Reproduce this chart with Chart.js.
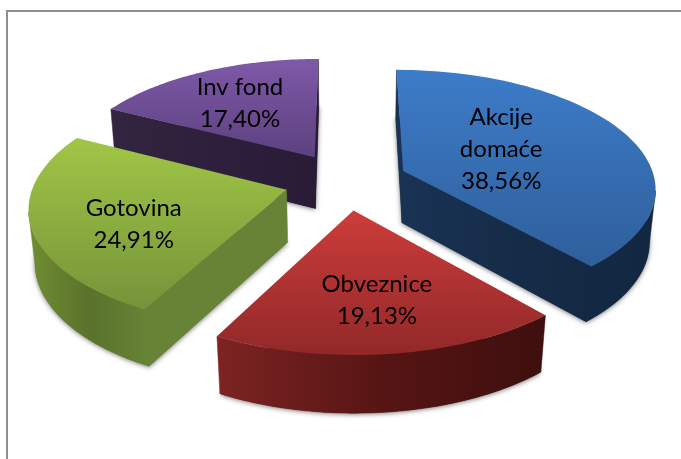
<!DOCTYPE html>
<html>
<head>
<meta charset="utf-8">
<script src="https://cdn.jsdelivr.net/npm/chart.js@4/dist/chart.umd.min.js"></script>
<style>
  html, body { margin:0; padding:0; background:#fff; }
  #frame { position:absolute; left:6px; top:10px; width:675px; height:449px; border-left:2px solid #8f8f8f; border-top:2px solid #8f8f8f; box-sizing:border-box; }
  canvas { position:absolute; left:0; top:0; }
</style>
</head>
<body>
<div id="frame"></div>
<canvas id="pie" width="681" height="459"></canvas>
<script>
const categories = ['Akcije domaće', 'Obveznice', 'Gotovina', 'Inv fond'];
const shares = [38.56, 19.13, 24.91, 17.40];
const labelLines = [['Akcije', 'domaće'], ['Obveznice'], ['Gotovina'], ['Inv fond']];

const topColors = [['#3d7cc9', '#2f5f9b'], ['#cc3d3a', '#922829'], ['#a0c646', '#76933a'], ['#7f59a8', '#5c417f']];
const sideColors = [['#1a3355', '#152b47', '#122740'], ['#7c2422', '#561514', '#3e0f0e'], ['#6f8e33', '#5a722b', '#678436'], ['#33243f', '#2e203c', '#291b36']];
const labelRadius = [0.42, 0.62, 0.62, 0.5];
const labelNudge = [[3, -5], [2, 6], [3, 12], [-16, -9]];

// draws the arcs the controller laid out as a tilted, exploded solid
const pie3d = {
  id: 'pie3d',
  beforeDatasetsDraw(chart, args, opts) {
    const ctx = chart.ctx;
    const meta = chart.getDatasetMeta(0);
    const order = meta.data.map((a, i) => i).sort((p, q) => {
      const m = i => (meta.data[i].startAngle + meta.data[i].endAngle) / 2;
      return Math.sin(m(p)) - Math.sin(m(q));
    });

    const project = (arc, X, Y, z) => {
      const w = 1 - opts.persp * Y + opts.zPersp * z;
      return [arc.x + arc.outerRadius * opts.stretch * X / w, arc.y + arc.outerRadius * (Y + opts.depth * z) / w];
    };
    const poly = pts => {
      ctx.beginPath();
      pts.forEach((p, i) => i ? ctx.lineTo(p[0], p[1]) : ctx.moveTo(p[0], p[1]));
      ctx.closePath();
    };

    order.forEach(i => {
      const arc = meta.data[i];
      const mid = (arc.startAngle + arc.endAngle) / 2;
      const ox = opts.explode * Math.cos(mid), oy = opts.explode * Math.sin(mid);
      const steps = 64, angles = [];
      for (let s = 0; s <= steps; s++) angles.push(arc.startAngle + (arc.endAngle - arc.startAngle) * s / steps);
      const rim = z => angles.map(a => project(arc, ox + Math.cos(a), oy + Math.sin(a), z));
      const top = rim(0), bot = rim(1);
      const apexT = project(arc, ox, oy, 0), apexB = project(arc, ox, oy, 1);

      // soft shadow under the foot of the slice
      ctx.save();
      ctx.shadowColor = 'rgba(0,0,0,0.55)';
      ctx.shadowBlur = 5;
      ctx.shadowOffsetY = 1;
      ctx.fillStyle = sideColors[i][1];
      poly([apexB].concat(bot));
      ctx.fill();
      ctx.restore();

      const xs = top.concat(bot).map(p => p[0]);
      const side = ctx.createLinearGradient(Math.min(...xs), 0, Math.max(...xs), 0);
      sideColors[i].forEach((c, k) => side.addColorStop(k / 2, c));
      ctx.fillStyle = side;
      ctx.strokeStyle = side;
      ctx.lineWidth = 0.5;
      const wall = pts => { poly(pts); ctx.fill(); ctx.stroke(); };

      const cross = (a, b) => (b[0] - a[0]) * (apexB[1] - apexT[1]) - (b[1] - a[1]) * (apexB[0] - apexT[0]);
      if (cross(apexT, top[0]) < 0) wall([apexT, top[0], bot[0], apexB]);
      if (cross(apexT, top[steps]) > 0) wall([apexT, top[steps], bot[steps], apexB]);
      // outer wall: one polygon per visible run, quads leave seams
      let run = null;
      for (let s = 0; s <= steps; s++) {
        const seen = s < steps && cross(top[s], top[s + 1]) < 0;
        if (seen && run === null) run = s;
        if (!seen && run !== null) {
          wall(top.slice(run, s + 1).concat(bot.slice(run, s + 1).reverse()));
          run = null;
        }
      }

      const ys = top.map(p => p[1]).concat(apexT[1]);
      const face = ctx.createLinearGradient(0, Math.min(...ys), 0, Math.max(...ys));
      face.addColorStop(0, topColors[i][0]);
      face.addColorStop(1, topColors[i][1]);
      ctx.fillStyle = face;
      poly([apexT].concat(top));
      ctx.fill();
    });

    // labels sit on the top faces, so they go on last
    ctx.fillStyle = '#000';
    ctx.font = opts.font;
    ctx.textAlign = 'center';
    ctx.textBaseline = 'middle';
    meta.data.forEach((arc, i) => {
      const mid = (arc.startAngle + arc.endAngle) / 2;
      const r = opts.explode + labelRadius[i];
      const c = project(arc, r * Math.cos(mid), r * Math.sin(mid), 0);
      const lines = labelLines[i].concat(shares[i].toFixed(2).replace('.', ',') + '%');
      lines.forEach((t, k) => {
        ctx.fillText(t, c[0] + labelNudge[i][0], c[1] + labelNudge[i][1] + (k - (lines.length - 1) / 2) * opts.lineHeight);
      });
    });
    return false;
  }
};

new Chart(document.getElementById('pie'), {
  type: 'pie',
  data: { labels: categories, datasets: [{ data: shares, backgroundColor: topColors.map(c => c[0]), borderWidth: 0 }] },
  options: {
    responsive: false,
    animation: false,
    layout: { padding: { left: 11, right: 0, top: 64, bottom: 161 } },
    plugins: {
      legend: { display: false },
      tooltip: { enabled: false },
      pie3d: { stretch: 2.154, persp: 0.132, zPersp: 0.02, depth: 0.455, explode: 0.245, font: '24px Lato', lineHeight: 32 }
    }
  },
  plugins: [pie3d]
});
</script>
</body>
</html>
